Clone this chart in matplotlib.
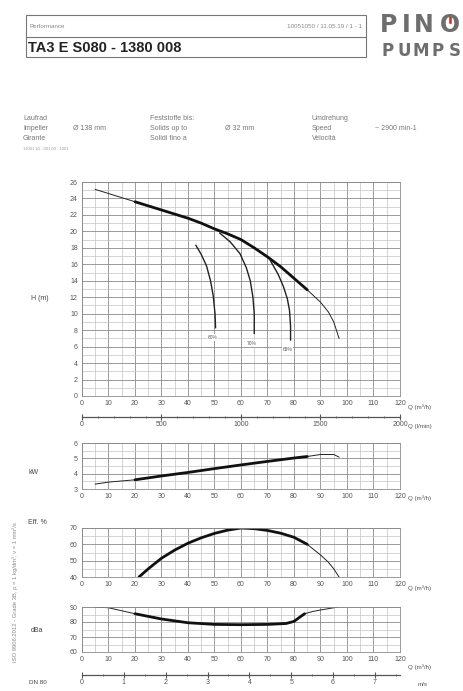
import numpy as np
import matplotlib
matplotlib.use("Agg")
import matplotlib.pyplot as plt
from matplotlib.ticker import MultipleLocator
from matplotlib.patches import Rectangle

# Data
q_h = [5, 10, 15, 20, 30, 40, 45, 50, 55, 60, 65, 70, 75, 80, 85, 90, 93, 95, 97]
head = [25.1, 24.6, 24.1, 23.6, 22.6, 21.6, 21.0, 20.3, 19.7, 19.0, 18.0, 16.9, 15.7, 14.3, 12.9, 11.4, 10.2, 9.0, 7.0]

iso_labels = ["60%", "70%", "65%"]
iso_q = [[43, 45, 47, 48.5, 49.5, 50.2, 50.4],
         [52, 56, 59.6, 62, 63.5, 64.5, 65, 65],
         [71, 74, 76, 77.5, 78.3, 78.7, 78.7]]
iso_h = [[18.3, 17.2, 15.8, 14.0, 12.2, 10.0, 8.3],
         [19.8, 18.7, 17.3, 15.6, 14.0, 12.0, 10.0, 7.6],
         [16.5, 14.8, 13.3, 11.8, 10.4, 8.5, 6.8]]

q_p = [5, 10, 20, 30, 40, 50, 60, 70, 80, 85, 90, 95, 97]
power = [3.32, 3.45, 3.6, 3.85, 4.08, 4.33, 4.57, 4.8, 5.02, 5.12, 5.25, 5.25, 5.08]

q_e = [21.5, 25, 30, 35, 40, 45, 50, 55, 60, 65, 70, 75, 80, 85, 90, 93, 95, 97]
eff = [40, 45, 51.5, 56.5, 60.7, 64, 66.7, 68.7, 70, 69.6, 68.5, 66.8, 64.3, 60, 53.5, 49, 45, 40]

q_n = [5, 10, 15, 20, 30, 40, 50, 60, 70, 77, 80, 82, 84, 87, 90, 95, 97]
noise = [90, 89.5, 87.5, 85.5, 82, 79.5, 78.4, 78.2, 78.4, 79, 80.4, 83, 85.5, 87, 88, 89.5, 90]

op_range = (20, 85)          # thick part of the curves
q_max = 120                  # m3/h at right edge
lmin_max = q_max * 1000 / 60  # l/min at right edge
v_max = 7.6                  # m/s in DN 80 at right edge

W, H = 464, 691
fig = plt.figure(figsize=(W / 100, H / 100), dpi=100)
fig.patch.set_facecolor("white")
plt.rcParams["font.family"] = ["Liberation Sans", "DejaVu Sans"]

txt = "#555555"
grid_major = "#8a8a8a"
grid_minor = "#c4c4c4"


def box(l, t, r, b):
    return [l / W, 1 - b / H, (r - l) / W, (b - t) / H]


def style(ax, ymin, ymax, ymin_step, ymaj_step):
    ax.set_xlim(0, q_max)
    ax.set_ylim(ymin, ymax)
    ax.xaxis.set_major_locator(MultipleLocator(10))
    ax.xaxis.set_minor_locator(MultipleLocator(5))
    ax.yaxis.set_major_locator(MultipleLocator(ymaj_step))
    ax.yaxis.set_minor_locator(MultipleLocator(ymin_step))
    ax.grid(which="major", color=grid_major, lw=0.6)
    ax.grid(which="minor", color=grid_minor, lw=0.5)
    ax.tick_params(which="both", length=0, labelsize=5, colors=txt, pad=3)
    for s in ax.spines.values():
        s.set_color(grid_major)
        s.set_linewidth(0.6)


def plot_curve(ax, x, y):
    x = np.array(x)
    y = np.array(y)
    ax.plot(x, y, color="#222222", lw=0.7)
    m = (x >= op_range[0]) & (x <= op_range[1])
    ax.plot(x[m], y[m], color="#111111", lw=2.0, solid_capstyle="round")


def scale_axis(y_px, xmax, major, minor):
    sa = fig.add_axes(box(82, y_px - 1, 400, y_px))
    sa.set_xlim(0, xmax)
    sa.set_ylim(0, 1)
    sa.patch.set_visible(False)
    for k in ("left", "right", "top"):
        sa.spines[k].set_visible(False)
    sa.spines["bottom"].set_color("#555555")
    sa.spines["bottom"].set_linewidth(0.9)
    sa.set_yticks([])
    sa.xaxis.set_major_locator(MultipleLocator(major))
    sa.xaxis.set_minor_locator(MultipleLocator(minor))
    sa.tick_params(which="major", direction="inout", length=4, width=0.8, labelsize=5,
                   colors=txt, pad=1)
    sa.tick_params(which="minor", direction="inout", length=2, width=0.6, colors=txt)
    return sa


# --- header -------------------------------------------------------------
fig.add_artist(Rectangle((26 / W, 1 - 57 / H), 340 / W, 42 / H, fill=False,
                         ec="#777777", lw=0.8, transform=fig.transFigure))
fig.add_artist(plt.Line2D([26 / W, 366 / W], [1 - 37 / H] * 2, color="#777777",
                          lw=0.8, transform=fig.transFigure))
fig.text(30 / W, 1 - 27 / H, "Performance", fontsize=4.5, color="#888888", va="center")
fig.text(362 / W, 1 - 27 / H, "10051050 / 11.05.19 / 1 - 1", fontsize=4.5,
         color="#888888", va="center", ha="right")
fig.text(28 / W, 1 - 48 / H, "TA3 E S080 - 1380 008", fontsize=10.5,
         fontweight="bold", color="#222222", va="center")

# logo, letter by letter to get the wide spacing
for ch, xc in zip("PINO", [389, 406, 424, 450]):
    fig.text(xc / W, 1 - 25 / H, ch, fontsize=17, fontweight="bold", family="DejaVu Sans",
             color="#6e6e6e", va="center", ha="center")
for ch, xc in zip("PUMPS", [388, 404, 421, 438, 455]):
    fig.text(xc / W, 1 - 51 / H, ch, fontsize=12, fontweight="bold", family="DejaVu Sans",
             color="#6e6e6e", va="center", ha="center")
fig.add_artist(Rectangle((448 / W, 1 - 24 / H), 4 / W, 11 / H, fc="#c0392b",
                         ec="white", lw=1.0, transform=fig.transFigure))

# --- info block ---------------------------------------------------------
info = [(23, ["Laufrad", "Impeller", "Girante"], 73, "Ø 138 mm"),
        (150, ["Feststoffe bis:", "Solids up to", "Solidi fino a"], 225, "Ø 32 mm"),
        (312, ["Umdrehung", "Speed", "Velocità"], 375, "~ 2900 min-1")]
for x0, words, xv, val in info:
    for i, w in enumerate(words):
        fig.text(x0 / W, 1 - (119 + 10 * i) / H, w, fontsize=5, color="#777777", va="center")
    fig.text(xv / W, 1 - 129 / H, val, fontsize=5, color="#777777", va="center")
fig.text(23 / W, 1 - 149 / H, "13001 10 - 001 00 - 1001", fontsize=3, color="#999999",
         va="center")

# --- H-Q chart ----------------------------------------------------------
ax_h = fig.add_axes(box(82, 182, 400, 396))
style(ax_h, 0, 26, 1, 2)
plot_curve(ax_h, q_h, head)
for lab, xq, yh in zip(iso_labels, iso_q, iso_h):
    ax_h.plot(xq, yh, color="#222222", lw=1.0)
    ax_h.text(xq[-1] - 1, yh[-1] - 1.2, lab, fontsize=3.5, color=txt, ha="center", va="center",
              bbox=dict(fc="white", ec="none", pad=0.5))
scale_axis(417, lmin_max, 500, 100)
fig.text(408 / W, 1 - 407 / H, "Q (m³/h)", fontsize=4.5, color=txt, va="center")
fig.text(408 / W, 1 - 427 / H, "Q (l/min)", fontsize=4.5, color=txt, va="center")
fig.text(40 / W, 1 - 298 / H, "H (m)", fontsize=5, color="#444444", va="center", ha="center")

# --- power chart --------------------------------------------------------
ax_p = fig.add_axes(box(82, 443, 400, 489))
style(ax_p, 3, 6, 0.5, 1)
plot_curve(ax_p, q_p, power)
fig.text(408 / W, 1 - 498 / H, "Q (m³/h)", fontsize=4.5, color=txt, va="center")
fig.text(34 / W, 1 - 473 / H, "kW", fontsize=5, color="#444444", va="center", ha="center")

# --- efficiency chart ---------------------------------------------------
ax_e = fig.add_axes(box(82, 528, 400, 577))
style(ax_e, 40, 70, 5, 10)
plot_curve(ax_e, q_e, eff)
fig.text(408 / W, 1 - 588 / H, "Q (m³/h)", fontsize=4.5, color=txt, va="center")
fig.text(37 / W, 1 - 523 / H, "Eff. %", fontsize=5, color="#444444", va="center", ha="center")

# --- noise chart --------------------------------------------------------
ax_n = fig.add_axes(box(82, 607, 400, 652))
style(ax_n, 60, 90, 5, 10)
plot_curve(ax_n, q_n, noise)
fig.text(408 / W, 1 - 667 / H, "Q (m³/h)", fontsize=4.5, color=txt, va="center")
fig.text(37 / W, 1 - 630 / H, "dBa", fontsize=5, color="#444444", va="center", ha="center")

scale_axis(675, v_max, 1, 0.5)
fig.text(418 / W, 1 - 685 / H, "m/s", fontsize=4.5, color=txt, va="center")
fig.text(38 / W, 1 - 683 / H, "DN 80", fontsize=4.5, color="#444444", va="center", ha="center")

fig.text(15 / W, 1 - 592 / H, "ISO 9906:2012 - Grade 3B, ρ = 1 kg/dm³, ν = 1 mm²/s",
         fontsize=4.2, color="#888888", rotation=90, va="center", ha="center")

fig.savefig("out.png", dpi=100)
